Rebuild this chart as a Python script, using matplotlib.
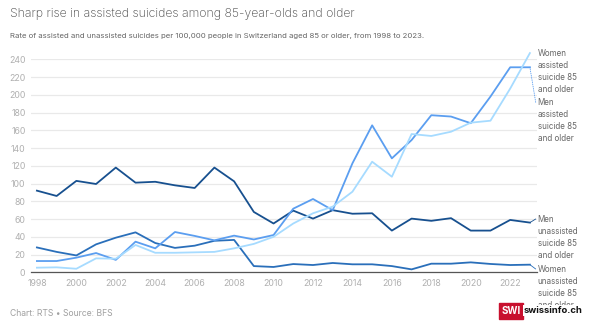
import matplotlib
matplotlib.use("Agg")
import matplotlib.pyplot as plt
from matplotlib.patches import Rectangle

plt.rcParams['font.family'] = ['Inter', 'DejaVu Sans']

# data
years = list(range(1998, 2024))
men_unassisted = [92, 86, 103, 99.5, 118, 101, 102, 98, 95, 118, 102.5, 68, 55,
                  69.5, 60.5, 70, 66, 66.5, 47, 60.5, 58, 61, 47, 47, 59, 56]
women_unassisted = [28, 23, 19, 31.5, 39, 45, 33, 27.5, 30, 35.5, 36.5, 7, 6,
                    9.3, 8.2, 10.5, 9, 9, 7, 3.3, 9.7, 9.7, 11.2, 9.4, 8.2, 8.6]
men_assisted = [12.7, 12.7, 16.5, 21.7, 14, 34.5, 27, 45.4, 41, 36, 41.3, 37, 42,
                71.7, 82.6, 70, 122.8, 165.6, 128.4, 149, 177, 175.5, 168, 198, 231, 231]
women_assisted = [5.2, 5.6, 4, 15.7, 15.3, 30.8, 22, 22, 22.5, 23, 27, 32, 40,
                  55, 66.5, 74, 90.8, 124.6, 107.7, 155.8, 153.6, 158.4, 168.6, 170.8, 207, 247]

series = [
    ("Men\nunassisted\nsuicide 85\nand older", men_unassisted, "#17508f", 220),
    ("Women\nunassisted\nsuicide 85\nand older", women_unassisted, "#2a6fba", 270),
    ("Men\nassisted\nsuicide 85\nand older", men_assisted, "#5b9ef0", 103.3),
    ("Women\nassisted\nsuicide 85\nand older", women_assisted, "#a6dbff", 54),
]

W, H = 600, 328
fig = plt.figure(figsize=(6, 3.28), dpi=100)
ax = fig.add_axes([31 / W, 1 - 272.3 / H, (537 - 31) / W, (272.3 - 59.3) / H])

for label, vals, color, label_y in series:
    ax.plot(years, vals, color=color, lw=1.3, clip_on=False, zorder=3)
    # label on the right with a small connector
    ls = ':' if label.startswith("Men\nassisted") else '-'
    ax.annotate('', xy=(years[-1], vals[-1]), xycoords='data',
                xytext=(535.7, H - (label_y - 1)), textcoords='figure pixels',
                arrowprops=dict(arrowstyle='-', color=color, lw=0.6, ls=ls,
                                shrinkA=0, shrinkB=0))
    fig.text(537.7 / W, 1 - (label_y - 5.5) / H, label, ha='left', va='top',
             fontsize=5.8, color='#666666', linespacing=1.44)

ax.set_xlim(1997.7, 2023.36)
ax.set_ylim(0, 240)
ax.set_yticks(range(0, 241, 20))
ax.set_xticks(range(1998, 2023, 2))
ax.grid(axis='y', color='#e9e9e9', lw=0.9)
ax.set_axisbelow(True)
for s in ['top', 'right', 'left']:
    ax.spines[s].set_visible(False)
ax.spines['bottom'].set_color('#555555')
ax.spines['bottom'].set_linewidth(0.9)
ax.tick_params(axis='both', length=0, labelsize=6.3, labelcolor='#b0b0b0')
ax.tick_params(axis='y', pad=4)
ax.tick_params(axis='x', pad=5)

fig.text(10 / W, 1 - 14 / H, "Sharp rise in assisted suicides among 85-year-olds and older",
         ha='left', va='center', fontsize=8.8, color='#444444', fontweight='light')
fig.text(10 / W, 1 - 36 / H,
         "Rate of assisted and unassisted suicides per 100,000 people in Switzerland aged 85 or older, from 1998 to 2023.",
         ha='left', va='center', fontsize=5.6, color='#666666')
fig.text(10 / W, 1 - 313 / H, "Chart: RTS \u2022 Source: BFS",
         ha='left', va='center', fontsize=6.2, color='#a0a0a0')

# SWI logo (drawn over the last label line, as in the original)
fig.patches.append(Rectangle((499 / W, 1 - 318.5 / H), 23.5 / W, 16 / H,
                             transform=fig.transFigure, color='#c8102e', zorder=5))
fig.text(510.7 / W, 1 - 310.5 / H, "SWI", ha='center', va='center', fontsize=7,
         color='white', fontweight='bold', zorder=6)
fig.text(524 / W, 1 - 310.5 / H, "swissinfo.ch", ha='left', va='center', fontsize=6.8,
         color='#111111', fontweight='bold', zorder=6,
         bbox=dict(facecolor='white', edgecolor='none', pad=0.5))

fig.savefig("out.png", dpi=100)
